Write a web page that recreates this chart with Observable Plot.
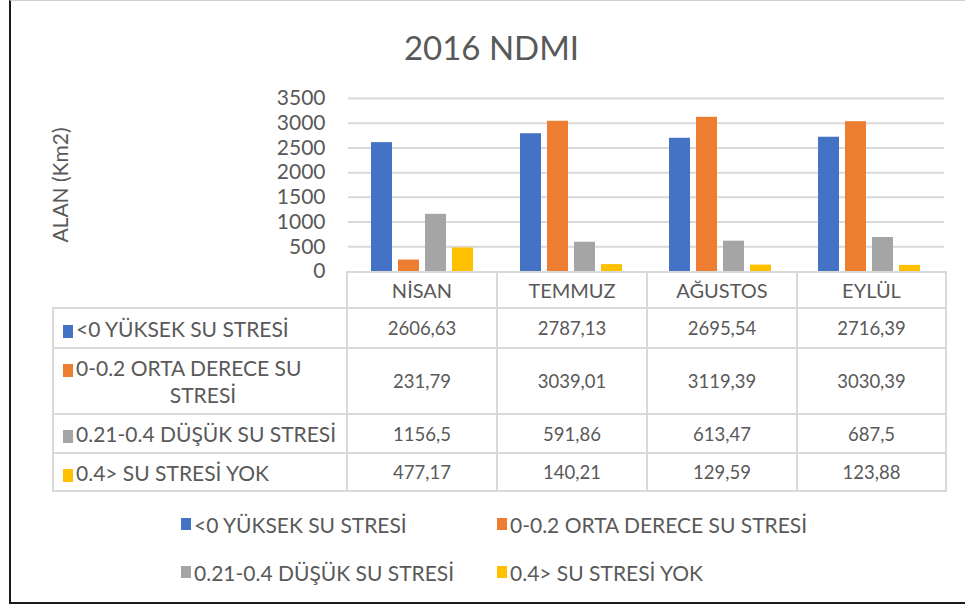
<!DOCTYPE html>
<html>
<head>
<meta charset="utf-8">
<script src="https://cdn.jsdelivr.net/npm/d3@7"></script>
<script src="https://cdn.jsdelivr.net/npm/@observablehq/plot@0.6"></script>
<style>
  html, body { margin: 0; padding: 0; background: #fff; }
  #wrap { position: relative; width: 965px; height: 610px; font-family: Lato, "Open Sans", sans-serif; color: #595959; overflow: hidden; }
  #frame { position: absolute; left: 9px; top: 0; width: 970px; height: 604px; border-left: 2px solid #1a1a1a; border-bottom: 2px solid #1a1a1a; border-top: 1px solid #d0d0d0; box-sizing: border-box; }
  #title { position: absolute; left: 9px; width: 965px; top: 27px; text-align: center; font-size: 33px; line-height: 40px; color: #595959; }
  #ylabel { position: absolute; left: -40px; width: 200px; top: 173px; text-align: center; font-size: 21px; line-height: 24px; transform: rotate(-90deg); }
  #chart { position: absolute; left: 0; top: 0; }
  #table { position: absolute; left: 52px; top: 271px; border-collapse: collapse; table-layout: fixed; font-size: 18.5px; color: #595959; }
  #table td { border: 2px solid #d9d9d9; text-align: center; padding: 0; }
  #table td.mon { font-size: 20px; }
  #table td.lab { text-align: left; padding-left: 9px; font-size: 21px; white-space: normal; }
  #table td.blank { border-top: none; border-left: none; }
  .sw { display: inline-block; width: 10px; height: 13px; margin-right: 3px; vertical-align: -1px; }
  .labtxt { display: inline-block; max-width: 280px; text-align: left; text-align-last: center; line-height: 27px; }
  #legend { position: absolute; left: 181px; top: 510px; display: grid; grid-template-columns: 316px 316px; grid-auto-rows: 48px; font-size: 21px; }
  #legend .item { display: flex; align-items: center; height: 28px; }
  #legend .sw { width: 10px; height: 12px; margin-right: 3px; }
</style>
</head>
<body>
<div id="wrap">
  <div id="frame"></div>
  <div id="chart"></div>
  <div id="title">2016 NDMI</div>
  <div id="ylabel">ALAN (Km2)</div>
  <table id="table"></table>
  <div id="legend"></div>
</div>
<script>
const months = ["NİSAN", "TEMMUZ", "AĞUSTOS", "EYLÜL"];
const seriesNames = ["<0 YÜKSEK SU STRESİ", "0-0.2 ORTA DERECE SU STRESİ", "0.21-0.4 DÜŞÜK SU STRESİ", "0.4> SU STRESİ YOK"];
const seriesColors = ["#4472C4", "#ED7D31", "#A5A5A5", "#FFC000"];
const yuksekStres = [2606.63, 2787.13, 2695.54, 2716.39];
const ortaStres = [231.79, 3039.01, 3119.39, 3030.39];
const dusukStres = [1156.5, 591.86, 613.47, 687.5];
const stresYok = [477.17, 140.21, 129.59, 123.88];
const yTicks = [0, 500, 1000, 1500, 2000, 2500, 3000, 3500];

const seriesValues = [yuksekStres, ortaStres, dusukStres, stresYok];
const rows = [];
seriesNames.forEach((s, i) => months.forEach((m, j) => rows.push({month: m, series: s, value: seriesValues[i][j]})));

const chart = Plot.plot({
  width: 965,
  height: 273,
  marginTop: 98,
  marginBottom: 2,
  marginLeft: 346,
  marginRight: 20,
  style: {fontFamily: "Lato, sans-serif", fontSize: "21px", color: "#595959", background: "transparent", overflow: "visible"},
  facet: {data: rows, x: "month"},
  fx: {domain: months, padding: 0, axis: null},
  x: {domain: seriesNames, paddingInner: 0.22, paddingOuter: 0.855, axis: null},
  y: {domain: [0, 3500], ticks: yTicks, tickSize: 0, tickPadding: 23, tickFormat: d => String(d), label: null},
  color: {domain: seriesNames, range: seriesColors},
  marks: [
    Plot.ruleY(yTicks.filter(d => d > 0), {stroke: "#d9d9d9", strokeWidth: 2}),
    Plot.barY(rows, {x: "series", y: "value", fill: "series"})
  ]
});
document.getElementById("chart").appendChild(chart);

// data table
const fmt = v => String(v).replace(".", ",");
const table = document.getElementById("table");
const colW = [294, 150, 150, 150, 149];
const cg = document.createElement("colgroup");
colW.forEach(w => { const c = document.createElement("col"); c.style.width = w + "px"; cg.appendChild(c); });
table.appendChild(cg);
const head = document.createElement("tr");
head.style.height = "36px";
const blank = document.createElement("td"); blank.className = "blank"; head.appendChild(blank);
months.forEach(m => { const td = document.createElement("td"); td.className = "mon"; td.textContent = m; head.appendChild(td); });
table.appendChild(head);
const rowH = [40, 66, 39, 38];
seriesNames.forEach((s, i) => {
  const tr = document.createElement("tr");
  tr.style.height = rowH[i] + "px";
  const lab = document.createElement("td"); lab.className = "lab";
  const span = document.createElement("span"); span.className = "labtxt";
  const sw = document.createElement("span"); sw.className = "sw"; sw.style.background = seriesColors[i];
  span.appendChild(sw);
  span.appendChild(document.createTextNode(s));
  lab.appendChild(span);
  tr.appendChild(lab);
  seriesValues[i].forEach(v => { const td = document.createElement("td"); td.textContent = fmt(v); tr.appendChild(td); });
  table.appendChild(tr);
});

// legend
const legend = document.getElementById("legend");
seriesNames.forEach((s, i) => {
  const it = document.createElement("div"); it.className = "item";
  const sw = document.createElement("span"); sw.className = "sw"; sw.style.background = seriesColors[i];
  it.appendChild(sw);
  it.appendChild(document.createTextNode(s));
  legend.appendChild(it);
});
</script>
</body>
</html>
